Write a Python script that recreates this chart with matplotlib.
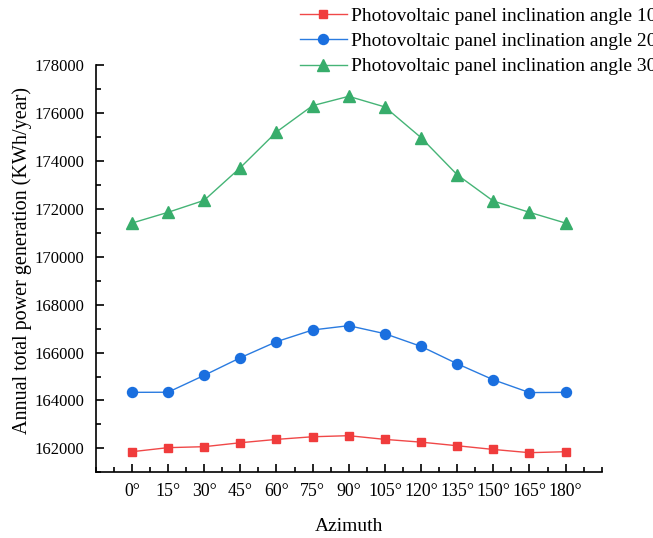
import matplotlib
matplotlib.use("Agg")
import matplotlib.pyplot as plt
from matplotlib.ticker import MultipleLocator

azimuth_labels = ["0°", "15°", "30°", "45°", "60°", "75°", "90°", "105°", "120°", "135°", "150°", "165°", "180°"]
angle10 = [161860, 162030, 162070, 162235, 162375, 162485, 162530, 162375, 162260, 162110, 161955, 161820, 161860]
angle20 = [164340, 164345, 165050, 165785, 166455, 166945, 167125, 166790, 166260, 165535, 164865, 164330, 164340]
angle30 = [171410, 171860, 172360, 173725, 175215, 176315, 176705, 176260, 174980, 173430, 172330, 171860, 171410]
series_names = ["Photovoltaic panel inclination angle 10°",
                "Photovoltaic panel inclination angle 20°",
                "Photovoltaic panel inclination angle 30°"]

plt.rcParams['font.family'] = ['Liberation Serif', 'DejaVu Serif']

fig = plt.figure(figsize=(6.53, 5.38), dpi=100)
ax = fig.add_axes([0.1466, 0.1221, 0.9215 - 0.1466, 0.8786 - 0.1221])

x = list(range(len(azimuth_labels)))
l1, = ax.plot(x, angle10, color='#f04848', lw=1.0, marker='s', ms=6.4, mfc='#f03c3c', mec='#f03c3c')
l2, = ax.plot(x, angle20, color='#2a7be0', lw=1.0, marker='o', ms=7.2, mfc='#1a6fdf', mec='#1a6fdf')
l3, = ax.plot(x, angle30, color='#45b476', lw=1.0, marker='^', ms=8.2, mfc='#37ad6b', mec='#37ad6b')

ax.set_xlim(-1, 13)
ax.set_ylim(161000, 178000)
ax.set_xticks(x)
ax.set_xticklabels(azimuth_labels)
ax.xaxis.set_minor_locator(MultipleLocator(0.5))
ax.set_yticks(range(162000, 178001, 2000))
ax.yaxis.set_minor_locator(MultipleLocator(1000))
ax.tick_params(axis='both', which='major', direction='in', length=6, width=1.2, colors='black')
ax.tick_params(axis='both', which='minor', direction='in', length=3.5, width=1.2)
ax.tick_params(axis='x', which='major', pad=8, labelsize=12.8)
ax.tick_params(axis='y', which='major', pad=8, labelsize=12)

for s in ['top', 'right']:
    ax.spines[s].set_visible(False)
for s in ['left', 'bottom']:
    ax.spines[s].set_linewidth(1.2)

ax.set_xlabel("Azimuth", fontsize=14, labelpad=13)
ax.set_ylabel("Annual total power generation (KWh/year)", fontsize=14.5)
ax.yaxis.set_label_coords(-0.126, 0.52)

fig.legend([l1, l2, l3], series_names, loc='upper left', bbox_to_anchor=(300 / 653, 1 - 7 / 538),
           frameon=False, fontsize=14, handlelength=2.4, handletextpad=0.22, labelspacing=0.4,
           borderpad=0, borderaxespad=0)

fig.savefig("out.png", dpi=100)
